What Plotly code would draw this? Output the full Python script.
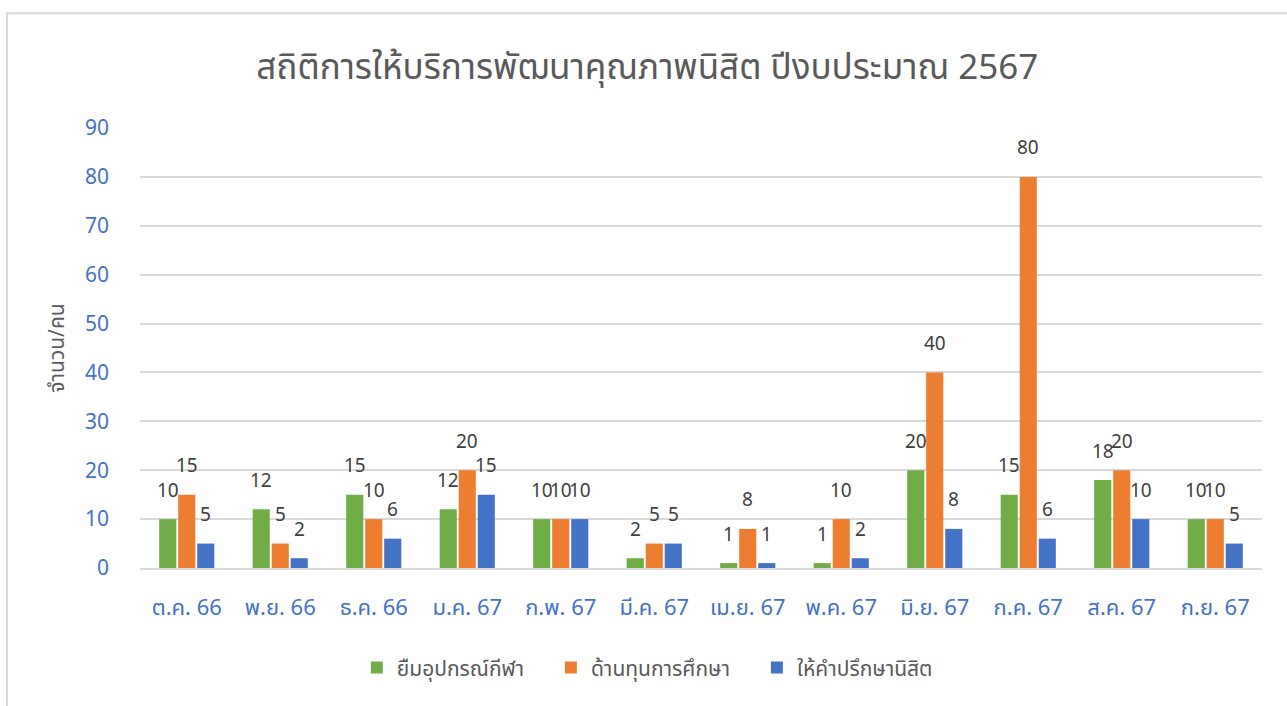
import plotly.graph_objects as go

months = ["ต.ค. 66", "พ.ย. 66", "ธ.ค. 66", "ม.ค. 67", "ก.พ. 67", "มี.ค. 67",
          "เม.ย. 67", "พ.ค. 67", "มิ.ย. 67", "ก.ค. 67", "ส.ค. 67", "ก.ย. 67"]
sports = [10, 12, 15, 12, 10, 2, 1, 1, 20, 15, 18, 10]
scholarship = [15, 5, 10, 20, 10, 5, 8, 10, 40, 80, 20, 10]
counseling = [5, 2, 6, 15, 10, 5, 1, 2, 8, 6, 10, 5]

series = [
    ("ยืมอุปกรณ์กีฬา", sports, "#70AD47"),
    ("ด้านทุนการศึกษา", scholarship, "#ED7D31"),
    ("ให้คำปรึกษานิสิต", counseling, "#4472C4"),
]

FONT = "Noto Sans Thai, Noto Sans, sans-serif"
W, H = 1287, 706
ML, MR, MT, MB = 140, 25, 128, 138
BARGAP = 0.39

fig = go.Figure()
for name, vals, color in series:
    fig.add_trace(go.Bar(
        x=months, y=vals, name=name + "\u00a0\u00a0\u00a0\u00a0",
        marker=dict(color=color, line=dict(width=0)),
    ))

# data labels placed above each bar (Excel-style offset)
cat_px = (W - ML - MR) / len(months)
slot = cat_px * (1 - BARGAP) / len(series)
annotations = []
for i, (name, vals, color) in enumerate(series):
    for m, v in zip(months, vals):
        annotations.append(dict(
            x=m, y=v, xref="x", yref="y", text=str(v), showarrow=False,
            xshift=(i - (len(series) - 1) / 2) * slot, yshift=28,
            xanchor="center", yanchor="middle",
            font=dict(size=19, color="#404040", family=FONT),
        ))

fig.update_layout(
    width=W, height=H,
    barmode="group", bargap=BARGAP, bargroupgap=0.1,
    paper_bgcolor="white", plot_bgcolor="white",
    margin=dict(l=ML, r=MR, t=MT, b=MB),
    font=dict(family=FONT, color="#595959"),
    title=dict(text="สถิติการให้บริการพัฒนาคุณภาพนิสิต ปีงบประมาณ 2567",
               x=0.503, xref="container", xanchor="center", y=0.905, yanchor="middle",
               font=dict(size=35, color="#595959", family=FONT)),
    legend=dict(orientation="h", x=0.462, xanchor="center", y=-0.227, yanchor="middle",
                font=dict(size=21, color="#595959", family=FONT),
                itemwidth=30, traceorder="normal"),
    showlegend=True,
    annotations=annotations,
    shapes=[dict(type="rect", xref="paper", yref="paper",
                 x0=-0.1185, x1=1.2, y0=-0.6, y1=1.261,
                 line=dict(color="#D9D9D9", width=2), layer="below")],
)
fig.update_xaxes(showgrid=False, showline=True, linecolor="#D9D9D9", linewidth=2,
                 tickfont=dict(size=22, color="#4472C4", family=FONT),
                 ticks="", ticklabelstandoff=19)
fig.update_yaxes(range=[0, 90], dtick=10, showgrid=True, gridcolor="#D9D9D9", gridwidth=2,
                 zeroline=False, showline=False,
                 tickfont=dict(size=21, color="#4472C4", family=FONT),
                 ticklabelstandoff=30,
                 title=dict(text="จำนวน/คน", font=dict(size=21, color="#595959", family=FONT),
                            standoff=14))

fig.write_html("out.html", config={"displayModeBar": False},
               post_script="document.body.style.margin='0';")
